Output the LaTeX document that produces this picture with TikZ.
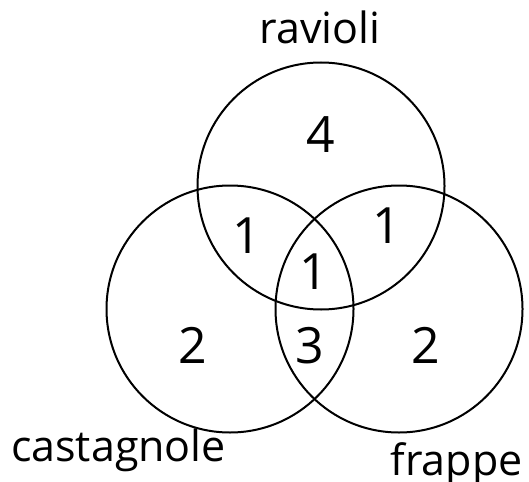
\documentclass[tikz,border=0pt]{standalone}
\usepackage{fontspec}
\setmainfont{Open Sans}
\begin{document}
\begin{tikzpicture}[x=1pt,y=-1pt,
  venn/.style={circle, draw=black, line width=2pt, minimum size=247pt, inner sep=0pt},
  setlabel/.style={anchor=base, inner sep=0pt, font=\fontsize{43}{50}\selectfont},
  count/.style={anchor=base, inner sep=0pt, font=\fontsize{50}{58}\selectfont}]
\useasboundingbox (0,0) rectangle (529,481);
\node[venn] (rav) at (321,186) {};
\node[venn] (cas) at (230,309) {};
\node[venn] (fra) at (399,309) {};
\node[setlabel] (lrav) at (320,43.3) {ravioli};
\node[setlabel] (lcas) at (118.5,461.7) {castagnole};
\node[setlabel] (lfra) at (456.7,475) {frappe};
\node[count] (n4) at (320.5,152.7) {4};
\node[count] (n1a) at (246.5,253) {1};
\node[count] (n1b) at (387,243) {1};
\node[count] (n1c) at (314,289) {1};
\node[count] (n2a) at (192.5,363) {2};
\node[count] (n3) at (310,363) {3};
\node[count] (n2b) at (426,363) {2};
\end{tikzpicture}
\end{document}
